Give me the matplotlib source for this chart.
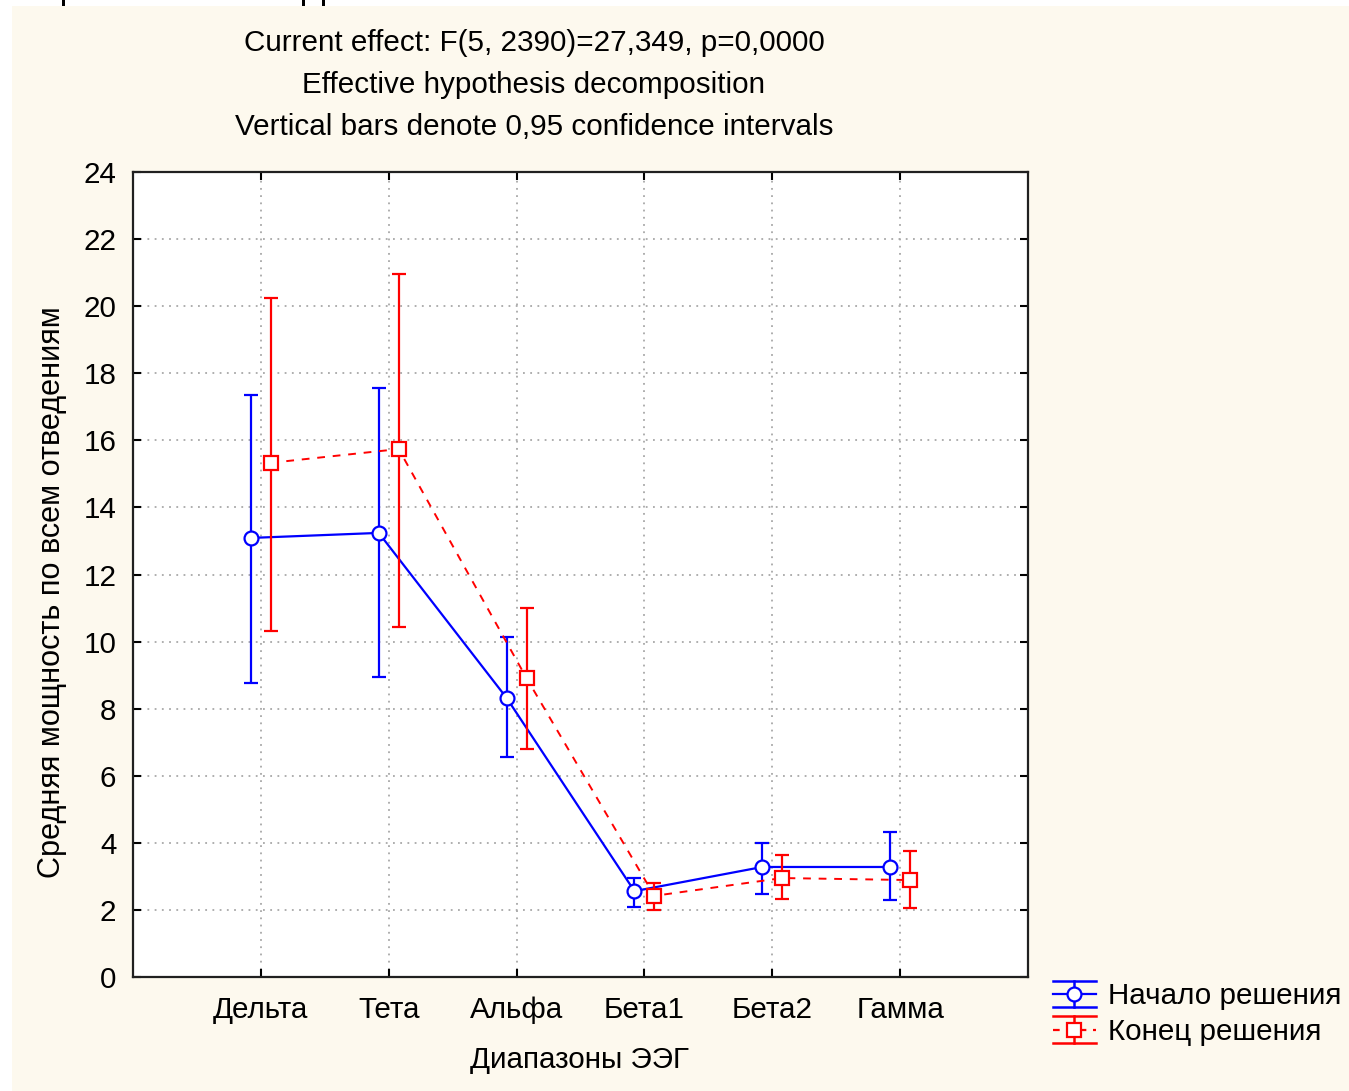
import matplotlib
matplotlib.use('Agg')
import matplotlib.pyplot as plt
from matplotlib.legend_handler import HandlerBase
from matplotlib.lines import Line2D
from matplotlib.patches import Rectangle
import numpy as np

plt.rcParams['font.family'] = ['Liberation Sans', 'DejaVu Sans']

# EEG bands and mean power (with 0.95 CI) at the start and end of the solution
bands = ['Дельта', 'Тета', 'Альфа', 'Бета1', 'Бета2', 'Гамма']
start_mean = [13.09, 13.24, 8.32, 2.56, 3.28, 3.28]
start_lo = [8.77, 8.94, 6.56, 2.09, 2.47, 2.30]
start_hi = [17.35, 17.56, 10.14, 2.95, 4.00, 4.32]
end_mean = [15.33, 15.74, 8.91, 2.42, 2.95, 2.89]
end_lo = [10.32, 10.44, 6.80, 2.00, 2.33, 2.06]
end_hi = [20.24, 20.96, 11.00, 2.80, 3.64, 3.76]

title_lines = ['Current effect: F(5, 2390)=27,349, p=0,0000',
               'Effective hypothesis decomposition',
               'Vertical bars denote 0,95 confidence intervals']

W, H = 1349, 1091
FS = 21.3
BLUE = '#0000ff'
RED = '#ff0000'
CREAM = '#fdf9ee'

fig = plt.figure(figsize=(W / 100, H / 100), dpi=100, facecolor='white')
fig.add_artist(Rectangle((12 / W, 0), 1, 1 - 6 / H, transform=fig.transFigure,
                         facecolor=CREAM, edgecolor='none', zorder=-10))
# strokes of the heading clipped by the top edge
for xp in (62, 302, 322):
    fig.add_artist(Rectangle((xp / W, 1 - 6 / H), 3 / W, 6 / H, transform=fig.transFigure,
                             facecolor='black', edgecolor='none'))

ax = fig.add_axes([133 / W, 1 - 977 / H, 895 / W, 805 / H])
ax.set_facecolor('white')

x = np.arange(len(bands))
off = 0.078

ax.errorbar(x - off, start_mean,
            yerr=[np.array(start_mean) - np.array(start_lo), np.array(start_hi) - np.array(start_mean)],
            color=BLUE, linestyle='-', linewidth=1.6, marker='o', markersize=10,
            markerfacecolor='white', markeredgecolor=BLUE, markeredgewidth=1.6,
            elinewidth=1.6, capsize=4.8, capthick=1.6, zorder=3)
eb = ax.errorbar(x + off, end_mean,
                 yerr=[np.array(end_mean) - np.array(end_lo), np.array(end_hi) - np.array(end_mean)],
                 color=RED, linestyle='--', linewidth=1.4, marker='s', markersize=10,
                 markerfacecolor='white', markeredgecolor=RED, markeredgewidth=1.6,
                 elinewidth=1.6, capsize=4.8, capthick=1.6, zorder=4)
eb[0].set_dashes((4, 4))

ax.set_xlim(-1, 6)
ax.set_ylim(0, 24)
ax.set_xticks(x)
ax.set_xticklabels(bands)
ax.set_yticks(np.arange(0, 25, 2))
ax.tick_params(direction='in', length=6, width=1.5, top=True, right=True,
               labelsize=FS, colors='black', pad=14)
ax.tick_params(axis='y', pad=12)
ax.grid(True, linestyle=(0, (1, 3)), color='#a8a8a8', linewidth=1.3, zorder=0)
for s in ax.spines.values():
    s.set_linewidth(1.6)
    s.set_color('#202020')

fig.text(580 / W, 1 - 1060 / H, 'Диапазоны ЭЭГ', ha='center', va='center', fontsize=FS)
fig.text(52 / W, 1 - 592 / H, 'Средняя мощность по всем отведениям', ha='center',
         va='center', rotation=90, fontsize=FS + 0.8)
for i, line in enumerate(title_lines):
    fig.text(534 / W, 1 - (43 + 42 * i) / H, line, ha='center', va='center', fontsize=FS)


class BarHandle:
    def __init__(self, color, dashed, marker):
        self.color = color
        self.dashed = dashed
        self.marker = marker


class BarHandler(HandlerBase):
    def create_artists(self, legend, h, xdescent, ydescent, width, height, fontsize, trans):
        x0, x1 = -xdescent, -xdescent + width
        y0, y1 = -ydescent, -ydescent + height
        xm, ym = (x0 + x1) / 2, (y0 + y1) / 2
        kw = dict(color=h.color, linewidth=1.8, transform=trans)
        arts = [Line2D([x0, x1], [y0, y0], **kw), Line2D([x0, x1], [y1, y1], **kw),
                Line2D([xm, xm], [y0, y1], **kw)]
        mid = Line2D([x0, x1], [ym, ym], color=h.color, linewidth=1.6,
                     linestyle='--' if h.dashed else '-', transform=trans)
        if h.dashed:
            mid.set_dashes((3, 3))
        arts.append(mid)
        arts.append(Line2D([xm], [ym], marker=h.marker, markersize=10, markerfacecolor='white',
                           markeredgecolor=h.color, markeredgewidth=1.6, linestyle='none',
                           transform=trans))
        return arts


handles = [BarHandle(BLUE, False, 'o'), BarHandle(RED, True, 's')]
fig.legend(handles, ['Начало решения', 'Конец решения'],
           handler_map={BarHandle: BarHandler()}, loc='upper left',
           bbox_to_anchor=(1053 / W, 1 - 981 / H), frameon=False, fontsize=FS,
           handlelength=1.45, handleheight=1.0, handletextpad=0.4, labelspacing=0.2,
           borderaxespad=0, borderpad=0)

fig.savefig('out.png', dpi=100, facecolor='white')
